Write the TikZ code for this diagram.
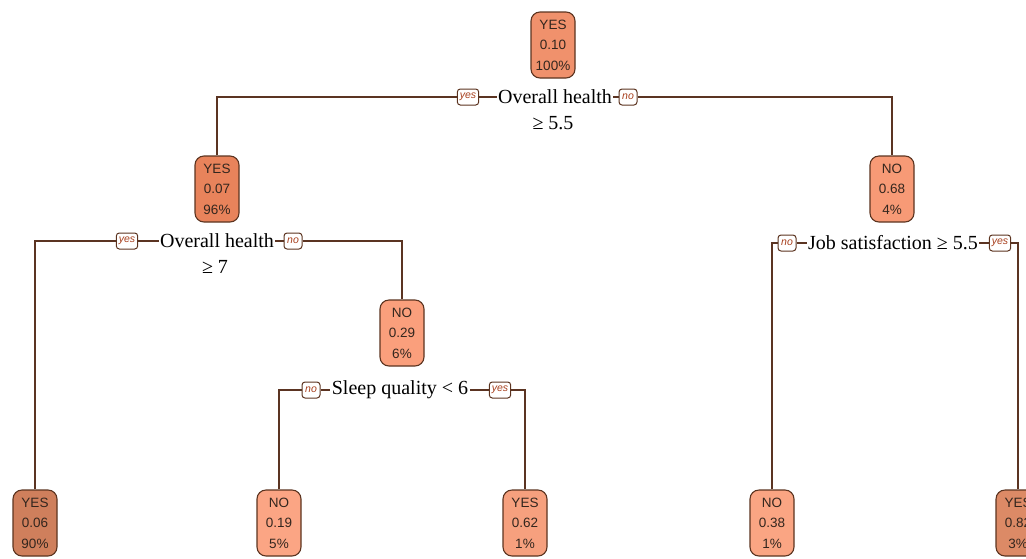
\documentclass[tikz,border=0pt]{standalone}
\usepackage{fontspec}
\setmainfont{Liberation Serif}
\setsansfont{Liberation Sans}
\usepackage{tikz}
\usetikzlibrary{positioning}
\usetikzlibrary{backgrounds}
\definecolor{TreeLine}{HTML}{5B3422}
\definecolor{BoxLine}{HTML}{5C3420}
\definecolor{BoxText}{HTML}{33261E}
\definecolor{TagText}{HTML}{A8401E}
\definecolor{RootFill}{HTML}{F0916C}
\definecolor{YesFillA}{HTML}{E8835B}
\definecolor{YesFillB}{HTML}{CF7F5C}
\definecolor{YesFillC}{HTML}{F6A07E}
\definecolor{YesFillD}{HTML}{DC8A66}
\definecolor{NoFillA}{HTML}{F79A76}
\definecolor{NoFillB}{HTML}{FA9F7C}
\definecolor{NoFillC}{HTML}{FBA584}
\definecolor{NoFillD}{HTML}{FAA583}

\tikzset{
  probbox/.style={draw=BoxLine, line width=1.1pt, rounded corners=9pt,
    minimum width=44pt, minimum height=66pt, inner sep=1pt, align=center,
    text=BoxText, font=\sffamily\fontsize{13.5}{20.5}\selectfont},
  tagbox/.style={draw=BoxLine, line width=1pt, rounded corners=3pt, fill=white,
    minimum height=16pt, minimum width=18pt, inner xsep=2.5pt, inner ysep=1pt,
    text=TagText, font=\sffamily\itshape\fontsize{10.5}{10.5}\selectfont},
  splittext/.style={fill=white, inner sep=1.5pt, text=black,
    font=\fontsize{20}{22}\selectfont},
  treeedge/.style={draw=TreeLine, line width=1.3pt}
}

\begin{document}
\begin{tikzpicture}[x=1pt,y=1pt]
    \useasboundingbox (0,0) rectangle (1026,-558);

    \node[probbox, fill=RootFill] (root) at (553,-45) {YES\\0.10\\100\%};
    \node[splittext] (s1) at (555,-97) {Overall health};
    \node[splittext] (ge1) at (553,-123) {≥ 5.5};
    \node[tagbox] (yes1) at (468,-97) {yes};
    \node[tagbox] (no1) at (628,-97) {no};

    \node[probbox, fill=YesFillA] (n2) at (217,-189) {YES\\0.07\\96\%};
    \node[probbox, fill=NoFillA] (n3) at (892,-189) {NO\\0.68\\4\%};

    \node[splittext] (s2) at (217,-241) {Overall health};
    \node[splittext] (ge2) at (215,-267) {≥ 7};
    \node[tagbox] (yes2) at (127,-241) {yes};
    \node[tagbox] (no2) at (293,-241) {no};

    \node[probbox, fill=NoFillB] (n4) at (402,-333) {NO\\0.29\\6\%};

    \node[splittext] (s3) at (400,-390) {Sleep quality < 6};
    \node[tagbox] (no3) at (311,-390) {no};
    \node[tagbox] (yes3) at (500,-390) {yes};

    \node[splittext] (s4) at (893,-243) {Job satisfaction ≥ 5.5};
    \node[tagbox] (no4) at (787,-243) {no};
    \node[tagbox] (yes4) at (1000,-243) {yes};

    \node[probbox, fill=YesFillB] (l1) at (35,-523) {YES\\0.06\\90\%};
    \node[probbox, fill=NoFillC] (l2) at (279,-523) {NO\\0.19\\5\%};
    \node[probbox, fill=YesFillC] (l3) at (525,-523) {YES\\0.62\\1\%};
    \node[probbox, fill=NoFillD] (l4) at (772,-523) {NO\\0.38\\1\%};
    \node[probbox, fill=YesFillD] (l5) at (1018,-523) {YES\\0.82\\3\%};

    \begin{scope}[on background layer]
      \draw[treeedge] (n2) |- (yes1) -- (no1) -| (n3);
      \draw[treeedge] (l1) |- (yes2) -- (no2) -| (n4);
      \draw[treeedge] (l2) |- (no3) -- (yes3) -| (l3);
      \draw[treeedge] (l4) |- (no4) -- (yes4) -| (l5);
    \end{scope}
\end{tikzpicture}
\end{document}
